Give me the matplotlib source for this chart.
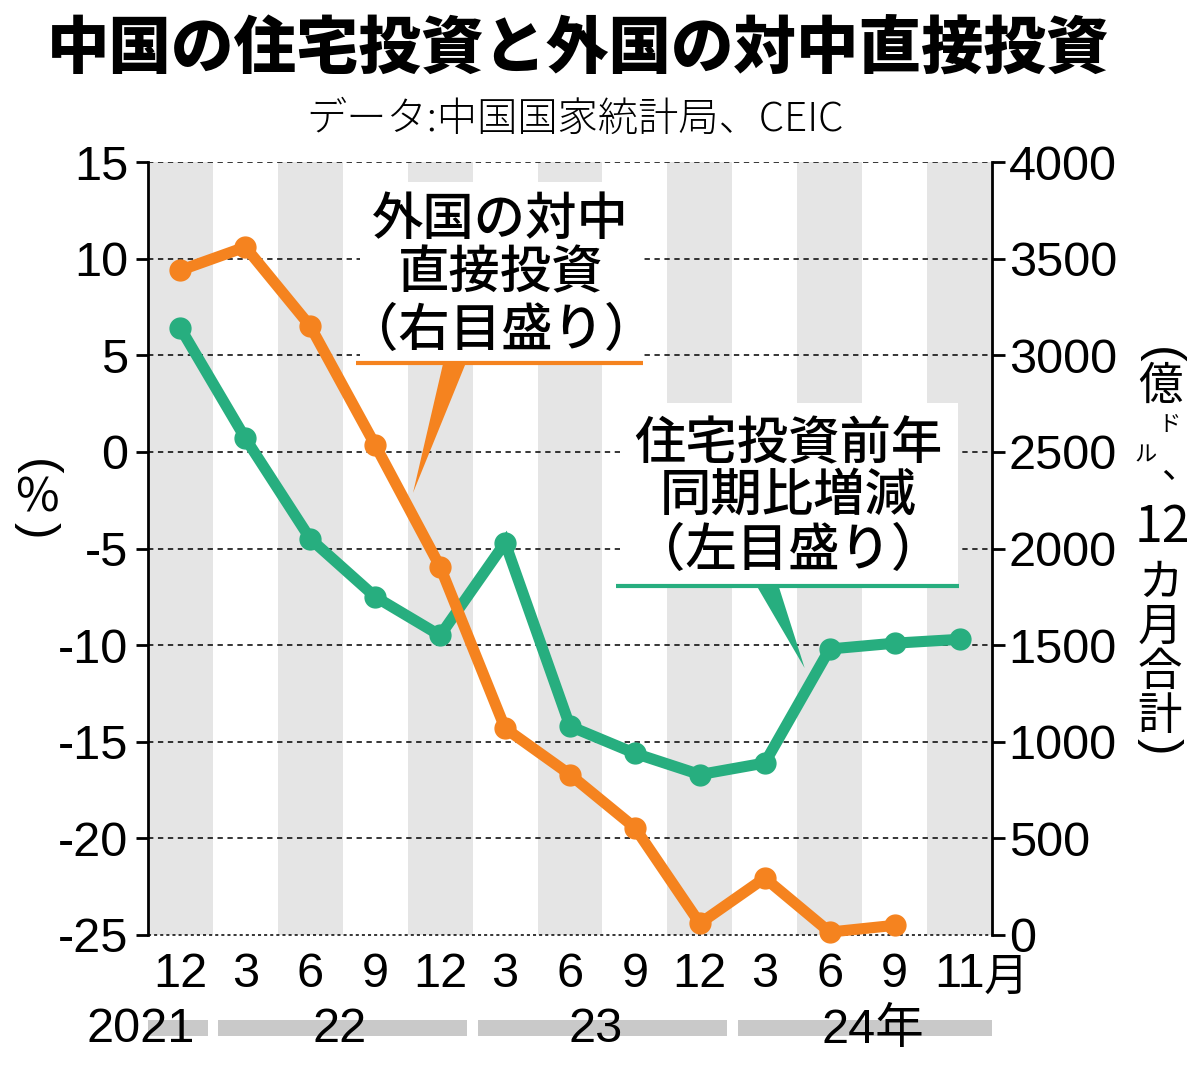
import numpy as np
import matplotlib
matplotlib.use('Agg')
import matplotlib.pyplot as plt
from matplotlib.patches import Rectangle, Polygon
import matplotlib.transforms as mtransforms

plt.rcParams['font.family'] = ['Liberation Sans', 'Noto Sans CJK JP', 'DejaVu Sans']
CJK = ['Noto Sans CJK JP', 'DejaVu Sans']

# ---------------- data ----------------
month_labels = ['12', '3', '6', '9', '12', '3', '6', '9', '12', '3', '6', '9', '11']
year_labels = ['2021', '22', '23', '24年']
year_spans = [(0, 0), (1, 4), (5, 8), (9, 12)]
housing_yoy = [6.4, 0.7, -4.5, -7.5, -9.5, -4.7, -14.2, -15.6, -16.7, -16.1, -10.2, -9.9, -9.7]
fdi_12m = [3440, 3560, 3150, 2535, 1905, 1070, 830, 555, 60, 295, 15, 50, np.nan]
left_ticks = [-25, -20, -15, -10, -5, 0, 5, 10, 15]
right_ticks = [0, 500, 1000, 1500, 2000, 2500, 3000, 3500, 4000]

title = '中国の住宅投資と外国の対中直接投資'
subtitle = 'データ:中国国家統計局、CEIC'
fdi_label = ['外国の対中', '直接投資', '（右目盛り）']
housing_label = ['住宅投資前年', '同期比増減', '（左目盛り）']

ORANGE = '#f5831f'
GREEN = '#27ae7f'
BAND = '#e5e5e5'
YEARBAR = '#c9c9c9'

W, H = 1200, 1066
fig = plt.figure(figsize=(W / 100, H / 100), dpi=100)
fig.patch.set_facecolor('white')

ax = fig.add_axes([148 / W, 1 - 935 / H, (992 - 148) / W, (935 - 162) / H])
ax2 = ax.twinx()

x = np.arange(len(month_labels))
ax.set_xlim(-0.5, len(month_labels) - 0.5)
ax.set_ylim(-25, 15)
ax2.set_ylim(0, 4000)

# alternating bands
for i in range(0, len(month_labels), 2):
    ax.axvspan(i - 0.5, i + 0.5, color=BAND, lw=0, zorder=0)

# grid lines
for v in left_ticks:
    if v == left_ticks[0]:
        ax.axhline(v, color='black', lw=1.1, ls=(0, (2, 2)), zorder=1, clip_on=False)
    else:
        ax.axhline(v, color='black', lw=1.1, ls=(0, (3.5, 3)), zorder=1)

# series
ax.plot(x, housing_yoy, color=GREEN, lw=8, marker='o', ms=15, zorder=5,
        solid_joinstyle='miter', clip_on=False)
ax2.plot(x, fdi_12m, color=ORANGE, lw=8, marker='o', ms=15, zorder=5,
         solid_joinstyle='miter', clip_on=False)

# spines / ticks
for a in (ax, ax2):
    a.spines['top'].set_visible(False)
    a.spines['bottom'].set_visible(False)
ax.spines['right'].set_visible(False)
ax2.spines['left'].set_visible(False)
ax.spines['left'].set_linewidth(2)
ax2.spines['right'].set_linewidth(2)

ax.set_yticks(left_ticks, labels=[str(v) for v in left_ticks])
ax2.set_yticks(right_ticks, labels=[str(v) for v in right_ticks])
ax.tick_params(axis='y', direction='out', length=9, width=2, pad=5, labelsize=35)
ax2.tick_params(axis='y', direction='out', length=9, width=2, pad=3, labelsize=35)

ax.set_xticks(x, labels=month_labels)
ax.tick_params(axis='x', length=0, pad=12, labelsize=35)

blend = mtransforms.blended_transform_factory(ax.transData, fig.transFigure)
ax.text(12.72, 1 - 977 / H, '月', transform=blend, ha='center', va='center',
        fontsize=32, family=CJK)

# year bars and labels
for (s, e) in year_spans:
    left = s - 0.5 if s == 0 else s - 0.42
    right = e + 0.5 if e == len(month_labels) - 1 else e + 0.42
    ax.add_patch(Rectangle((left, 1 - 1036 / H), right - left, 16 / H,
                           transform=blend, color=YEARBAR, lw=0, clip_on=False, zorder=1))
year_pos = [(0.22, 'right'), (2.45, 'center'), (6.4, 'center'), (9.88, 'left')]
for lab, (px, ha) in zip(year_labels, year_pos):
    ax.text(px, 1 - 1030 / H, lab, transform=blend, ha=ha, va='center',
            fontsize=35, zorder=3)

# annotation boxes (axes fraction)
def ann_box(x0, x1, y0, y1, ly, color, wedge, lines, xc, ys):
    ax.add_patch(Rectangle((x0, y0), x1 - x0, y1 - y0, transform=ax.transAxes,
                           facecolor='white', lw=0, zorder=2, clip_on=False))
    ax.plot([x0 - 0.005, x1 + 0.001], [ly, ly], color=color, lw=3,
            transform=ax.transAxes, zorder=2.5, clip_on=False, solid_capstyle='butt')
    ax.add_patch(Polygon(wedge, closed=True, transform=ax.transAxes,
                         facecolor=color, lw=0, zorder=2.5, clip_on=False))
    for t, yy in zip(lines, ys):
        ax.text(xc, yy, t, transform=ax.transAxes, ha='center', va='center',
                fontsize=37, family=CJK, fontweight='medium', zorder=2.6)

ann_box(0.251, 0.585, 0.741, 0.974, 0.740, ORANGE,
        [(0.350, 0.741), (0.377, 0.741), (0.314, 0.572)],
        fdi_label, 0.418, [0.925, 0.856, 0.781])
ann_box(0.559, 0.960, 0.453, 0.688, 0.4515, GREEN,
        [(0.721, 0.452), (0.747, 0.452), (0.778, 0.3454)],
        housing_label, 0.759, [0.635, 0.568, 0.497])

# title and subtitle
fig.text(578 / W, 1 - 49 / H, title, ha='center', va='center', fontsize=45,
         fontweight='heavy', family=CJK)
fig.text(575 / W, 1 - 120 / H, subtitle, ha='center', va='center', fontsize=29,
         family=CJK, fontweight='light')

# left axis unit (%)
fig.text(37 / W, 1 - 467 / H, '(', rotation=-90, ha='center', va='center', fontsize=36)
fig.text(37 / W, 1 - 498 / H, '%', ha='center', va='center', fontsize=34, family=CJK)
fig.text(37 / W, 1 - 530 / H, ')', rotation=-90, ha='center', va='center', fontsize=36)

# right axis unit (vertical)
fig.text(1160 / W, 1 - 355 / H, '(', rotation=-90, ha='center', va='center', fontsize=36)
fig.text(1160 / W, 1 - 386 / H, '億', ha='center', va='center', fontsize=32, family=CJK)
fig.text(1170 / W, 1 - 425 / H, 'ド', ha='center', va='center', fontsize=16, family=CJK)
fig.text(1146 / W, 1 - 455 / H, 'ル', ha='center', va='center', fontsize=16, family=CJK)
fig.text(1179 / W, 1 - 468 / H, '、', ha='center', va='center', fontsize=26, family=CJK)
fig.text(1162 / W, 1 - 528 / H, '12', ha='center', va='center', fontsize=36, family=CJK)
for ch, py in zip(['カ', '月', '合', '計'], [583, 627, 672, 716]):
    fig.text(1160 / W, 1 - py / H, ch, ha='center', va='center', fontsize=32, family=CJK)
fig.text(1160 / W, 1 - 746 / H, ')', rotation=-90, ha='center', va='center', fontsize=36)

fig.savefig('out.png', dpi=100, facecolor='white')
